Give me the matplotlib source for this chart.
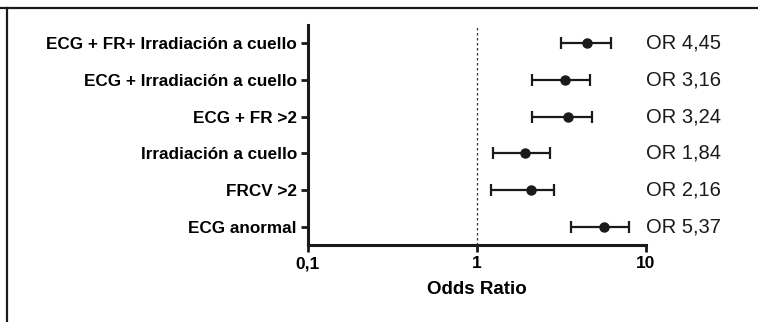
import matplotlib
matplotlib.use("Agg")
import matplotlib.pyplot as plt
from matplotlib.lines import Line2D

plt.rcParams['font.family'] = ['Liberation Sans', 'DejaVu Sans']

categories = ["ECG + FR+ Irradiación a cuello", "ECG + Irradiación a cuello", "ECG + FR >2",
              "Irradiación a cuello", "FRCV >2", "ECG anormal"]
odds = [4.5, 3.34, 3.47, 1.93, 2.09, 5.7]
ci_low = [3.17, 2.13, 2.13, 1.24, 1.21, 3.6]
ci_high = [6.2, 4.67, 4.82, 2.70, 2.86, 7.96]
or_labels = ["OR 4,45", "OR 3,16", "OR 3,24", "OR 1,84", "OR 2,16", "OR 5,37"]
xticks = [0.1, 1, 10]
xticklabels = ["0,1", "1", "10"]

fig = plt.figure(figsize=(7.58, 3.22), dpi=100)
ax = fig.add_axes([0.4063, 0.2391, 0.8518 - 0.4063, 0.9224 - 0.2391])

ypos = list(range(1, len(categories) + 1))
err_lo = [o - l for o, l in zip(odds, ci_low)]
err_hi = [h - o for o, h in zip(odds, ci_high)]
ax.errorbar(odds, ypos, xerr=[err_lo, err_hi], fmt='o', color='#1a1a1a', ms=6.5,
            elinewidth=1.6, capsize=4.5, capthick=1.6, zorder=3)
ax.axvline(1, color='#333333', lw=0.9, ls=(0, (2, 2)), zorder=1)

ax.set_xscale('log')
ax.set_xlim(0.1, 10)
ax.set_ylim(6.5, 0.5)
ax.set_xticks(xticks)
ax.set_xticklabels(xticklabels, fontweight='bold', fontsize=12.5)
ax.xaxis.set_minor_locator(matplotlib.ticker.NullLocator())
ax.set_yticks(ypos)
ax.set_yticklabels(categories, fontweight='bold', fontsize=12.3)
ax.set_xlabel("Odds Ratio", fontweight='bold', fontsize=13.5, labelpad=7)

for s in ['top', 'right']:
    ax.spines[s].set_visible(False)
for s in ['left', 'bottom']:
    ax.spines[s].set_linewidth(2.2)
    ax.spines[s].set_color('#1a1a1a')
ax.tick_params(axis='both', width=2, length=5, color='#1a1a1a', pad=3)

for y, lab in zip(ypos, or_labels):
    ax.annotate(lab, xy=(1.0, y), xycoords=('axes fraction', 'data'), xytext=(0, 0),
                textcoords='offset points', ha='left', va='center', fontsize=14.5,
                color='#1a1a1a', annotation_clip=False)

fig.add_artist(Line2D([0, 1], [1 - 8 / 322, 1 - 8 / 322], transform=fig.transFigure,
                      color='#1a1a1a', lw=1.6))
fig.add_artist(Line2D([7 / 758, 7 / 758], [0, 1 - 8 / 322], transform=fig.transFigure,
                      color='#1a1a1a', lw=1.6))

fig.savefig("out.png", dpi=100)
